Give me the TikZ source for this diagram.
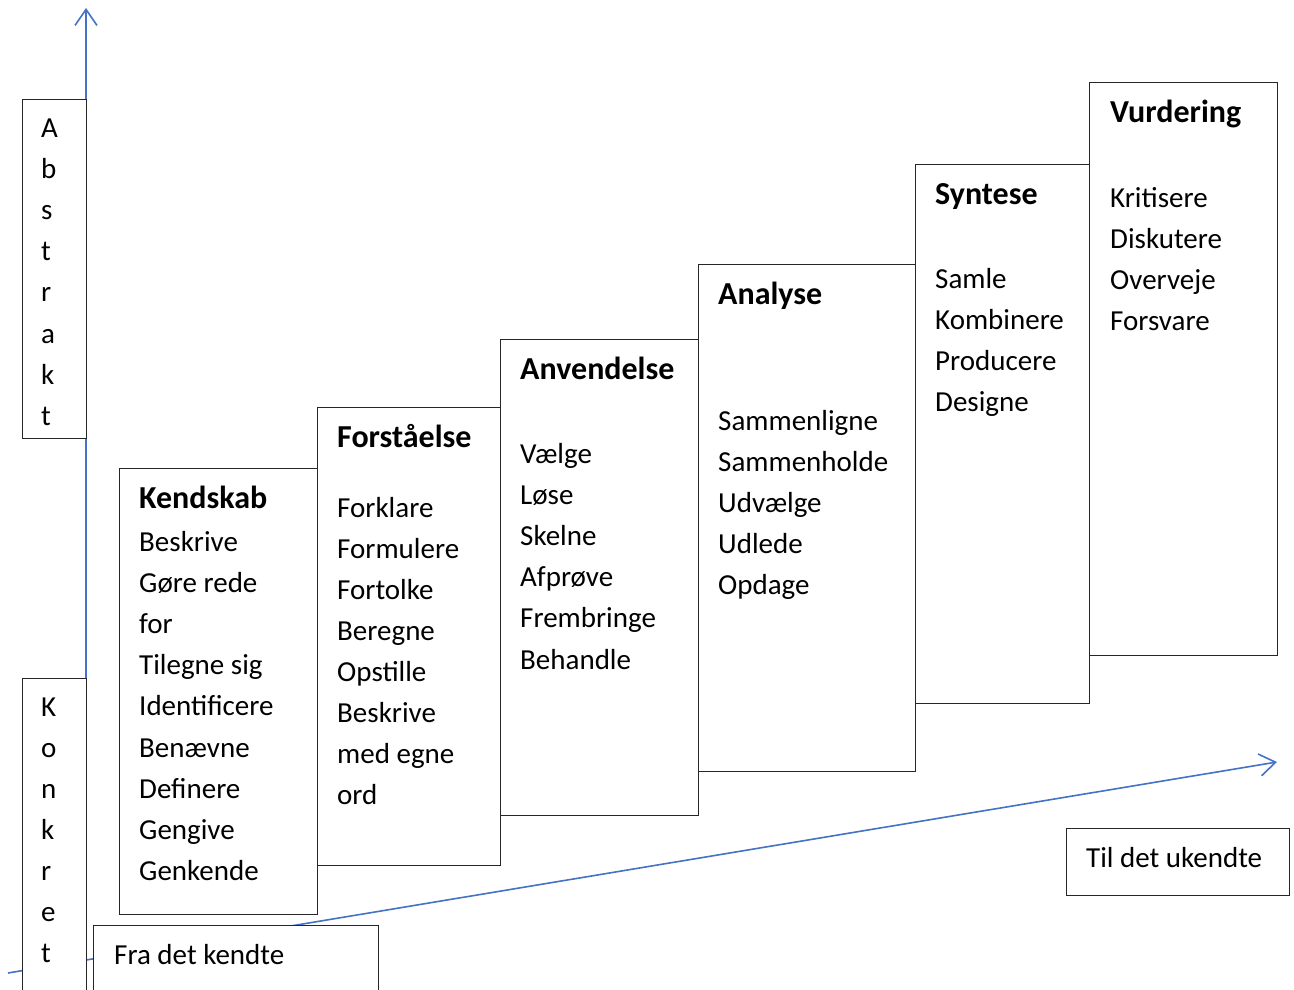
\documentclass[tikz,border=0pt]{standalone}
\usepackage{fontspec}
\setmainfont{Carlito}
\usetikzlibrary{arrows.meta}
\definecolor{axisblue}{RGB}{68,114,196}
\begin{document}
\begin{tikzpicture}[x=1pt,y=-1pt,
 box/.style={draw=black!85, line width=1.3pt, fill=white, inner sep=0pt, anchor=north west},
 txt/.style={anchor=base west, inner sep=0pt, font=\fontsize{29}{41}\selectfont},
 ttl/.style={anchor=base west, inner sep=0pt, font=\fontsize{32}{41}\selectfont\bfseries},
 axisline/.style={draw=axisblue, line width=1.6pt, -{Straight Barb[length=16pt,width=22pt,line width=1.6pt]}}]
\useasboundingbox (0,0) rectangle (1294,990);
\clip (0,0) rectangle (1294,990);
% axes
\coordinate (vstart) at (86,1000);
\coordinate (vend) at (86,8);
\coordinate (dstart) at (8,973);
\coordinate (dend) at (1277,762);
\draw[axisline] (vstart) -- (vend);
\draw[axisline] (dstart) -- (dend);
% side boxes
\node[box, minimum width=64pt, minimum height=339pt] (abs) at (22,99) {};
\node[box, minimum width=64pt, minimum height=340pt] (kon) at (22,678) {};
\foreach \l [count=\i] in {A,b,s,t,r,a,k,t}
  \node[txt] (a\i) at (41,{127+41.2*(\i-1)+10}) {\l};
\foreach \l [count=\i] in {K,o,n,k,r,e,t}
  \node[txt] (c\i) at (41,{706+41*(\i-1)+10}) {\l};
% level boxes
\node[box, minimum width=198pt, minimum height=446pt] (kbox) at (119,468) {};
\node[box, minimum width=183pt, minimum height=458pt] (fbox) at (317,407) {};
\node[box, minimum width=198pt, minimum height=476pt] (abox) at (500,339) {};
\node[box, minimum width=217pt, minimum height=507pt] (anbox) at (698,264) {};
\node[box, minimum width=174pt, minimum height=539pt] (sbox) at (915,164) {};
\node[box, minimum width=188pt, minimum height=573pt] (vbox) at (1089,82) {};
% Kendskab
\node[ttl] (kt) at (139,508) {Kendskab};
\foreach \t [count=\i] in {Beskrive,Gøre rede,for,Tilegne sig,Identificere,Benævne,Definere,Gengive,Genkende}
  \node[txt] (k\i) at (139,{551+41.2*(\i-1)}) {\t};
% Forståelse
\node[ttl] (ft) at (337,447) {Forståelse};
\foreach \t [count=\i] in {Forklare,Formulere,Fortolke,Beregne,Opstille,Beskrive,med egne,ord}
  \node[txt] (f\i) at (337,{517+41.1*(\i-1)}) {\t};
% Anvendelse
\node[ttl] (at) at (520,379) {Anvendelse};
\foreach \t [count=\i] in {Vælge,Løse,Skelne,Afprøve,Frembringe,Behandle}
  \node[txt] (av\i) at (520,{463+41.2*(\i-1)}) {\t};
% Analyse
\node[ttl] (ant) at (718,304) {Analyse};
\foreach \t [count=\i] in {Sammenligne,Sammenholde,Udvælge,Udlede,Opdage}
  \node[txt] (an\i) at (718,{430+41*(\i-1)}) {\t};
% Syntese
\node[ttl] (st) at (935,204) {Syntese};
\foreach \t [count=\i] in {Samle,Kombinere,Producere,Designe}
  \node[txt] (s\i) at (935,{288+41.3*(\i-1)}) {\t};
% Vurdering
\node[ttl] (vt) at (1110,122) {Vurdering};
\foreach \t [count=\i] in {Kritisere,Diskutere,Overveje,Forsvare}
  \node[txt] (v\i) at (1110,{207+41*(\i-1)}) {\t};
% bottom labels
\node[box, minimum width=223pt, minimum height=67pt] (til) at (1066,828) {};
\node[txt] (tilt) at (1086,867) {Til det ukendte};
\node[box, minimum width=285pt, minimum height=80pt] (fra) at (93,925) {};
\node[txt] (frat) at (114,964) {Fra det kendte};
\end{tikzpicture}
\end{document}
